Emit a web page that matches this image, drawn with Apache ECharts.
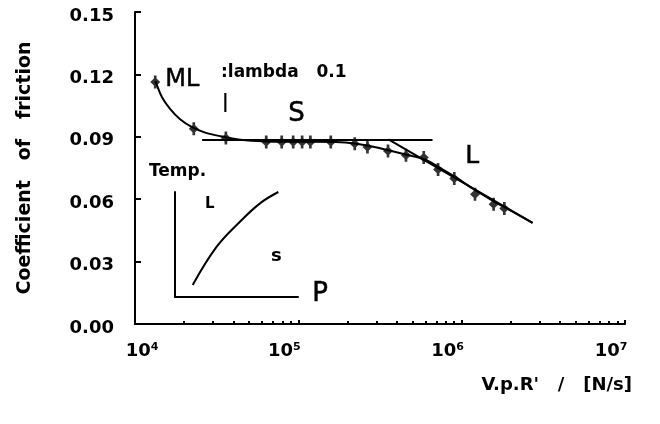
<!DOCTYPE html>
<html>
<head>
<meta charset="utf-8">
<script src="https://cdn.jsdelivr.net/npm/echarts@6/dist/echarts.min.js"></script>
<style>
html,body{margin:0;padding:0;background:#fff;}
#chart{width:660px;height:424px;}
</style>
</head>
<body>
<div id="chart"></div>
<script>
// ---- data ----
const pointX = [13300, 22900, 36000, 63600, 79100, 93000, 105500, 118500, 158000, 221500, 265000, 354000, 456000, 586000, 717000, 901000, 1207000, 1569000, 1825000];
const pointY = [0.1163, 0.0939, 0.0894, 0.0875, 0.0875, 0.0875, 0.0875, 0.0875, 0.0875, 0.0867, 0.0851, 0.0832, 0.0811, 0.0800, 0.0743, 0.0700, 0.0624, 0.0576, 0.0555];

const curveX = [13340, 14640, 16390, 18880, 22370, 26880, 33220, 44090, 62730, 102800, 181000, 268600, 356200, 459800, 601700, 743000, 918000, 1185000, 1572000, 1999000, 2716000];
const curveY = [0.1168, 0.1090, 0.1034, 0.0984, 0.0946, 0.0920, 0.0903, 0.0886, 0.0878, 0.0876, 0.0874, 0.0857, 0.0835, 0.0814, 0.0790, 0.0749, 0.0706, 0.0648, 0.0590, 0.0545, 0.0486];

const flatX = [25760, 663000];
const flatY = [0.0885, 0.0885];

const slopeX = [356000, 2716000];
const slopeY = [0.0888, 0.0486];

const insetX = [1.44, 3.39, 5.28, 6.91, 8.40];
const insetY = [1.14, 4.79, 7.17, 8.92, 10.0];

const xExponents = [4, 5, 6, 7];
const xMinorTicks = [];
[10000, 100000, 1000000].forEach(d => { for (let k = 2; k <= 9; k++) xMinorTicks.push(d * k); });

const FONT = 'DejaVu Sans';
const pairs = (xs, ys) => xs.map((x, i) => [x, ys[i]]);

const markerPath = 'path://M-1.2,-6.5 L1.2,-6.5 L1.2,-3.5 L4.5,0 L1.2,3.5 L1.2,6.5 L-1.2,6.5 L-1.2,3.5 L-4.5,0 L-1.2,-3.5 Z';

const chart = echarts.init(document.getElementById('chart'), null, {renderer: 'canvas'});

const option = {
  backgroundColor: '#fff',
  animation: false,
  grid: [
    {left: 135, right: 35, top: 12, bottom: 100},
    {left: 175, width: 123, top: 192, bottom: 127}
  ],
  xAxis: [
    {
      type: 'log', logBase: 10, min: 10000, max: 10000000, gridIndex: 0,
      name: "V.p.R'   /   [N/s]", nameLocation: 'end', nameGap: 7,
      nameTextStyle: {fontFamily: FONT, fontSize: 18, fontWeight: 'bold', color: '#000', align: 'right', verticalAlign: 'top', padding: [52, 0, 0, 0]},
      axisLine: {lineStyle: {color: '#000', width: 2}},
      axisTick: {inside: true, length: 4, lineStyle: {color: '#000', width: 2}},
      splitLine: {show: false},
      axisLabel: {
        margin: 18, color: '#000',
        formatter: v => {
          const e = Math.round(Math.log10(v));
          if (e === xExponents[0]) return '{f|10}{s|' + e + '}';
          return '{b|10}{t|' + e + '}';
        },
        rich: {
          f: {fontFamily: FONT, fontSize: 18, fontWeight: 'bold', color: '#000', padding: [0, 0, 0, 14]},
          b: {fontFamily: FONT, fontSize: 18, fontWeight: 'bold', color: '#000'},
          s: {fontFamily: FONT, fontSize: 11, fontWeight: 'bold', color: '#000', verticalAlign: 'top'},
          t: {fontFamily: FONT, fontSize: 11, fontWeight: 'bold', color: '#000', verticalAlign: 'top', padding: [0, 28, 0, 0]}
        }
      }
    },
    {
      type: 'log', logBase: 10, min: 10000, max: 10000000, gridIndex: 0, position: 'bottom',
      axisLine: {show: false},
      axisLabel: {show: false},
      splitLine: {show: false},
      axisTick: {show: true, inside: true, length: 3, customValues: xMinorTicks, lineStyle: {color: '#000', width: 2}}
    },
    {
      type: 'value', min: 0, max: 10, gridIndex: 1,
      axisLine: {onZero: false, lineStyle: {color: '#000', width: 2}},
      axisTick: {show: false}, axisLabel: {show: false}, splitLine: {show: false}
    }
  ],
  yAxis: [
    {
      type: 'value', min: 0, max: 0.15, interval: 0.03, gridIndex: 0,
      name: 'Coefficient   of   friction', nameLocation: 'middle', nameGap: 100, nameRotate: 90,
      nameTextStyle: {fontFamily: FONT, fontSize: 19, fontWeight: 'bold', color: '#000'},
      axisLine: {lineStyle: {color: '#000', width: 2}},
      axisTick: {inside: true, length: 6, lineStyle: {color: '#000', width: 2}},
      splitLine: {show: false},
      axisLabel: {margin: 21, color: '#000', fontFamily: FONT, fontSize: 18, fontWeight: 'bold', verticalAlign: 'top', lineHeight: 8, formatter: v => v.toFixed(2)}
    },
    {
      type: 'value', min: 0, max: 10, gridIndex: 1,
      axisLine: {onZero: false, lineStyle: {color: '#000', width: 2}},
      axisTick: {show: false}, axisLabel: {show: false}, splitLine: {show: false}
    }
  ],
  series: [
    {
      type: 'line', xAxisIndex: 0, yAxisIndex: 0, data: pairs(curveX, curveY),
      smooth: 0.3, showSymbol: false, lineStyle: {color: '#000', width: 2}, z: 2
    },
    {
      type: 'line', xAxisIndex: 0, yAxisIndex: 0, data: pairs(flatX, flatY),
      showSymbol: false, lineStyle: {color: '#000', width: 2}, z: 2
    },
    {
      type: 'line', xAxisIndex: 0, yAxisIndex: 0, data: pairs(slopeX, slopeY),
      showSymbol: false, lineStyle: {color: '#000', width: 2}, z: 2
    },
    {
      type: 'scatter', xAxisIndex: 0, yAxisIndex: 0, data: pairs(pointX, pointY),
      symbol: markerPath, symbolSize: [10, 13], itemStyle: {color: '#000'}, z: 3
    },
    {
      type: 'line', xAxisIndex: 2, yAxisIndex: 1, data: pairs(insetX, insetY),
      smooth: 0.4, showSymbol: false, lineStyle: {color: '#000', width: 2}
    }
  ],
  graphic: [
    {type: 'text', left: 165, top: 68, style: {text: 'ML', font: '24px "DejaVu Sans"', fill: '#000', stroke: '#000', lineWidth: 0.5}},
    {type: 'text', left: 221, top: 64, style: {text: ':lambda   0.1', font: 'bold 17px "DejaVu Sans"', fill: '#000'}},
    {type: 'text', left: 222, top: 94, style: {text: 'l', font: '24px "DejaVu Sans"', fill: '#000'}},
    {type: 'text', left: 288, top: 101, style: {text: 'S', font: '26px "DejaVu Sans"', fill: '#000', stroke: '#000', lineWidth: 0.5}},
    {type: 'text', left: 465, top: 144, style: {text: 'L', font: '25px "DejaVu Sans"', fill: '#000', stroke: '#000', lineWidth: 0.5}},
    {type: 'text', left: 149, top: 163, style: {text: 'Temp.', font: 'bold 17px "DejaVu Sans"', fill: '#000'}},
    {type: 'text', left: 205, top: 197, style: {text: 'L', font: 'bold 15px "DejaVu Sans"', fill: '#000'}},
    {type: 'text', left: 271, top: 247, style: {text: 's', font: 'bold 18px "DejaVu Sans"', fill: '#000'}},
    {type: 'text', left: 312, top: 281, style: {text: 'P', font: '26px "DejaVu Sans"', fill: '#000', stroke: '#000', lineWidth: 0.5}}
  ]
};
chart.setOption(option);
</script>
</body>
</html>
